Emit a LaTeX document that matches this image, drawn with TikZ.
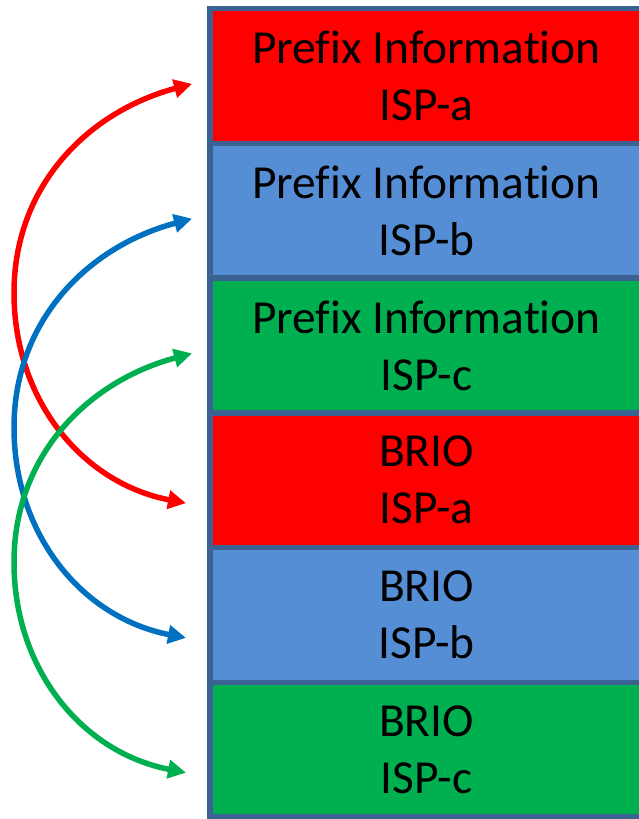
\documentclass[tikz,border=0pt]{standalone}
\usepackage{fontspec}
\setmainfont{Carlito}[Ligatures=NoCommon]
\usetikzlibrary{positioning,arrows.meta}
\definecolor{ispred}{RGB}{255,0,0}
\definecolor{ispblue}{RGB}{85,142,213}
\definecolor{ispgreen}{RGB}{0,176,80}
\definecolor{blueline}{RGB}{0,112,192}
\definecolor{boxborder}{RGB}{59,98,147}

\begin{document}
\begin{tikzpicture}[x=1pt, y=1pt, node distance=0pt,
  optbox/.style={draw=boxborder, line width=5.5pt, rectangle, outer sep=0pt, inner sep=0pt,
    minimum width=433pt, minimum height=134.75pt, align=center,
    font=\fontsize{47.4}{57}\selectfont},
  isparrow/.style={line width=5.5pt, {Triangle[length=18pt,width=18pt]}-{Triangle[length=18pt,width=18pt]}}]
\useasboundingbox (0,0) rectangle (639,819);
\node[optbox, fill=ispred] (pa) at (426.5,743.1) {Prefix Information\\ISP-a};
\node[optbox, fill=ispblue, below=of pa] (pb) {Prefix Information\\ISP-b};
\node[optbox, fill=ispgreen, below=of pb] (pc) {Prefix Information\\ISP-c};
\node[optbox, fill=ispred, below=of pc] (ba) {BRIO\\ISP-a};
\node[optbox, fill=ispblue, below=of ba] (bb) {BRIO\\ISP-b};
\node[optbox, fill=ispgreen, below=of bb] (bc) {BRIO\\ISP-c};
% prefix info <-> brio of the same isp
\foreach \src/\dst/\col in {pa/ba/ispred, pb/bb/blueline, pc/bc/ispgreen}{
  \coordinate (\src-in) at ([shift={(-18pt,-8pt)}]\src.west);
  \coordinate (\src-turn) at ([shift={(-196pt,-217pt)}]\src.west);
  \coordinate (\dst-in) at ([shift={(-24pt,-23pt)}]\dst.west);
  \draw[isparrow, \col] (\src-in) to[out=195,in=90] (\src-turn) to[out=-90,in=169] (\dst-in);
}
\end{tikzpicture}
\end{document}
